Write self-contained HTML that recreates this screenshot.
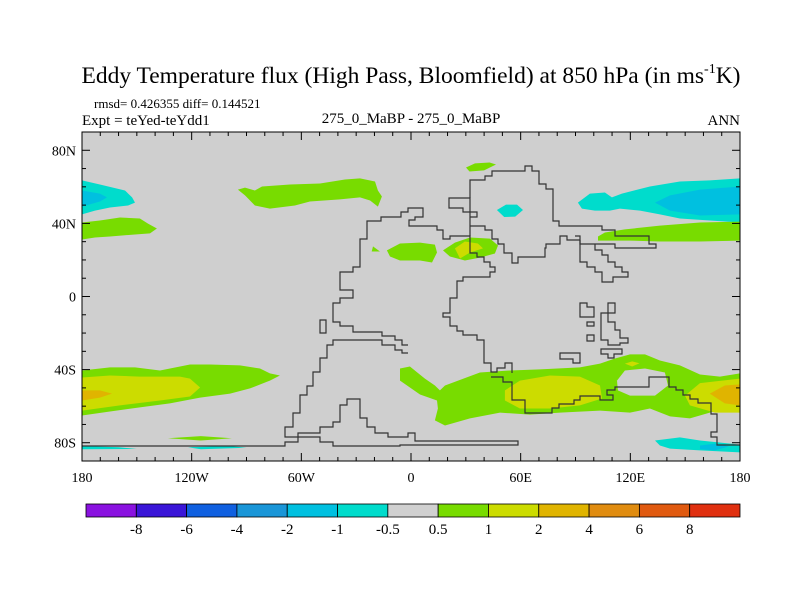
<!DOCTYPE html>
<html><head><meta charset="utf-8">
<style>
body{margin:0;background:#fff;}
svg{display:block;font-family:"Liberation Serif",serif;}
</style></head>
<body>
<svg id="chart" width="800" height="600" viewBox="0 0 800 600">
<text x="411" y="83" font-size="23.5" text-anchor="middle">Eddy Temperature flux (High Pass, Bloomfield) at 850 hPa (in ms<tspan font-size="14" dy="-10">-1</tspan><tspan dy="10">K)</tspan></text>
<text x="94" y="108" font-size="13">rmsd= 0.426355 diff= 0.144521</text>
<text x="82" y="125" font-size="15">Expt = teYed-teYdd1</text>
<text x="411" y="123" font-size="15" text-anchor="middle">275_0_MaBP - 275_0_MaBP</text>
<text x="740" y="125" font-size="15" text-anchor="end">ANN</text>
<defs><clipPath id="pc"><rect x="82" y="132" width="658" height="329"/></clipPath></defs>
<rect x="82" y="132" width="658" height="329" fill="#cfcfcf"/>
<g id="fields" clip-path="url(#pc)"></g>
<g id="coast" clip-path="url(#pc)" fill="none" stroke="#333" stroke-width="1.2"></g>
<rect x="82" y="132" width="658" height="329" fill="none" stroke="#000" stroke-width="1"/>
<g id="ticks"></g>
<g id="colorbar"></g>
</svg>
<script>
// ---- data (lon, lat) ----
const levelColors = ["#8a12e0","#3a16d8","#1060e0","#1a96d8","#00c0e0","#00dccc","#d0d0d0","#78dc00","#ccdc00","#e0b400","#e08c10","#e05a10","#e03010"];
const levelLabels = ["-8","-6","-4","-2","-1","-0.5","0.5","1","2","4","6","8"];
const lonTicks = [-180,-120,-60,0,60,120,180];
const lonTickLabels = ["180","120W","60W","0","60E","120E","180"];
const latTicks = [80,40,0,-40,-80];
const latTickLabels = ["80N","40N","0","40S","80S"];
// field contours: [colorIndex, polygon as lon,lat pairs]
const cyanNW = [[-180,63.5],[-170.2,61.3],[-156.5,58],[-152.6,54.2],[-151,51.4],[-154.8,49.8],[-164.7,48.7],[-172.9,47],[-180,44.9]];
const blueNW = [[-180,58],[-170.2,56.3],[-166.3,54.2],[-170.2,52],[-180,49.2]];
const cyanNE = [[91.3,51.4],[97.9,56.3],[106.1,56.9],[109.9,54.2],[115.4,56.3],[130.7,60.2],[147.1,62.9],[163.5,63.5],[180,64.6],[180,40.5],[163.5,41.6],[147.1,42.7],[136.2,44.9],[125.3,47],[114.3,48.1],[108.8,47],[100.6,47],[93.5,48.1]];
const blueNE = [[133.5,51.4],[141.7,55.3],[158.1,58.5],[180,60.2],[180,44.9],[158.1,44.3],[141.7,47]];
const greenNW = [[-180,40.5],[-170.2,41.6],[-159.2,43.2],[-148.3,42.7],[-143.9,39.9],[-139,37.2],[-142.8,34.5],[-151,33.9],[-164.7,32.8],[-172.9,32.3],[-180,31.2]];
const greenNE = [[102.3,32.8],[106.1,35],[117,36.7],[136.2,38.8],[158.1,40.5],[180,41],[180,30.6],[158.1,30.1],[136.2,30.1],[119.8,30.6],[108.8,30.6],[102.3,30.6]];
const greenNAm = [[-94.7,58.5],[-90.8,59.6],[-85.4,58],[-81.5,60.2],[-66.2,61.3],[-49.8,61.8],[-36.1,64],[-27.9,64.6],[-19.7,62.9],[-18.1,58],[-15.9,54.7],[-18.1,49.2],[-22.4,52.5],[-27.9,54.2],[-38.9,53.1],[-55.3,52],[-63.5,49.8],[-77.2,48.1],[-85.4,49.8],[-90.8,55.3]];
const greenA = [[-13.2,25.2],[-6.0,29],[4.9,29.5],[13.1,28.4],[14.2,24.1],[11.5,18.6],[4.9,19.7],[-6.0,19.7],[-11.5,21.9]];
const greenTri = [[-20.8,27.4],[-17,24.6],[-21.5,24.6]];
const greenB = [[17.5,25.2],[24,29.5],[32.3,32.3],[43.2,31.7],[47.6,27.9],[45.9,23.5],[37.7,21.3],[29.5,19.7],[21.3,21.9]];
const yellowB = [[24,26.3],[29.5,30.1],[36.6,29],[39.4,26.3],[32.3,24.1],[26.8,20.8]];
const greenArc = [[30.1,70.6],[35,72.8],[43,73.3],[46.5,72.2],[40,69],[32,68.4]];
const cyanSmall = [[47,47.3],[52,50.3],[58,50.3],[61.3,47.3],[57,43.7],[51,43.5]];
const greenSW = [[-180,-40.5],[-164.7,-38.8],[-151,-38.8],[-137.3,-40.5],[-126.4,-38.3],[-120.9,-37.2],[-110,-37.2],[-93.6,-37.7],[-82.6,-39.4],[-77.2,-42.1],[-71.7,-43.2],[-77.2,-46],[-88.1,-50.3],[-99,-53.1],[-115.4,-55.3],[-131.9,-58.5],[-148.3,-60.7],[-164.7,-62.9],[-180,-65.1]];
const yellowSW = [[-180,-44.3],[-164.7,-43.2],[-148.3,-43.8],[-126.4,-43.8],[-120.9,-44.9],[-115.4,-49.8],[-120.9,-54.7],[-137.3,-56.9],[-159.2,-59.6],[-180,-62.4]];
const orangeSW = [[-180,-51.4],[-170.2,-51.4],[-163.6,-53.1],[-170.2,-55.3],[-180,-56.9]];
const greenSmallS = [[-133,-77.5],[-115,-76.4],[-98,-77.5],[-115,-78.8]];
const cyanSW1 = [[-180,-81.8],[-160,-82.5],[-150,-83.4],[-180,-83.6]];
const cyanSW2 = [[-122,-82.5],[-100,-81.8],[-90,-82.7],[-115,-83.6]];
const greenSE = [[-6.0,-39.4],[-0.6,-38.3],[7.6,-44.9],[13.1,-48.7],[15.8,-51.4],[18.6,-48.7],[37.7,-41.6],[54.1,-40.5],[70.5,-39.9],[92.4,-38.8],[103.4,-36.7],[111.6,-33.9],[119.8,-31.7],[128,-31.7],[136.2,-35],[147.1,-37.7],[158.1,-42.7],[169,-43.8],[180,-42.1],[180,-59.6],[163.5,-63.5],[152.6,-66.7],[141.7,-65.6],[130.7,-61.3],[119.8,-63.5],[103.4,-62.4],[81.5,-63.5],[65.1,-64.6],[48.7,-63.5],[32.3,-66.7],[18.6,-70.6],[13.1,-67.8],[14.7,-61.3],[14.2,-56.9],[4.9,-53.6],[-6.0,-46]];
const holeSE = [[112.7,-46],[117,-40.5],[128,-39.4],[138.9,-41.6],[140.6,-48.7],[133.5,-54.2],[119.8,-54.2],[113.2,-51.4]];
const yellowSE1 = [[51.4,-51.4],[59.6,-46],[76,-43.2],[92.4,-43.8],[103.4,-48.7],[104.5,-55.8],[92.4,-59.6],[76,-61.3],[59.6,-61.3],[51.4,-56.9]];
const yellowSE2 = [[149.9,-54.2],[158.1,-47.4],[180,-44.9],[180,-63.5],[166.3,-63.5],[152.6,-59.6]];
const orangeSE = [[163.5,-53.1],[171.7,-48.7],[180,-48.1],[180,-59.6],[171.7,-58.5]];
const yellowSmall = [[117,-36.7],[121,-35.5],[125,-36.5],[121,-38.3]];
const cyanSE = [[133.5,-78.8],[147.1,-77.1],[158.1,-78.8],[180,-81],[180,-85.3],[158.1,-84.2],[141.7,-83.2],[136.2,-81.5]];
const blueSE = [[158.1,-81.5],[166.3,-80.5],[174,-82],[166.3,-84.2],[158.1,-83.6]];
const fieldPolys = [[5,cyanNW],[4,blueNW],[5,cyanNE],[4,blueNE],[7,greenNW],[7,greenNE],[7,greenNAm],[7,greenA],[7,greenTri],[7,greenB],[8,yellowB],[7,greenArc],[5,cyanSmall],[7,greenSW],[8,yellowSW],[9,orangeSW],[7,greenSmallS],[5,cyanSW1],[5,cyanSW2],[7,greenSE],[6,holeSE],[8,yellowSE1],[8,yellowSE2],[9,orangeSE],[8,yellowSmall],[5,cyanSE],[4,blueSE]];

// ---- axes ----
const X0=82,X1=740,Y0=132,Y1=461;
const xOf = lon => X0 + (lon+180)/360*(X1-X0);
const yOf = lat => Y0 + (90-lat)/180*(Y1-Y0);
const NS="http://www.w3.org/2000/svg";
function mk(tag, attrs, parent){const e=document.createElementNS(NS,tag);for(const k in attrs)e.setAttribute(k,attrs[k]);parent.appendChild(e);return e;}

const fg=document.getElementById('fields');
fieldPolys.forEach((fp,i)=>{
  const pts=fp[1].map(p=>xOf(p[0]).toFixed(1)+','+yOf(p[1]).toFixed(1)).join(' ');
  const pg=mk('polygon',{points:pts,fill:fp[0]===6?'#cfcfcf':levelColors[fp[0]]},fg);
  
  
});

// coastlines (pixel basemap paths)
const coastPaths = [
"M408,345 L402,345 L402,340 L395,340 L395,336 L382,336 L382,332 L353,332 L353,326 L340,326 L340,322 L333,322 L333,303 L340,303 L340,298 L353,298 L353,290 L340,290 L340,272 L353,272 L353,267 L360,267 L360,239 L367,239 L367,221 L381,221 L381,217 L401,217 L401,212 L408,212 L408,208 L423,208 L423,217 L415,217 L415,220 L409,220 L409,226 L437,226 L437,230 L443,230 L443,239 L450,239 L450,236 L470,236 L470,253 L477,253 L477,257 L484,257 L484,262 L490,262 L490,267 L495,267 L495,272 L490,272 L490,277 L463,277 L463,281 L457,281 L457,298 L450,298 L450,313 L443,313 L443,317 L450,317 L450,326 L457,326 L457,331 L463,331 L463,335 L477,335 L477,340 L484,340 L484,363 L491,363 L491,372 L497,372 L497,368 L505,368 L505,363 L512,363 L512,373",
"M470,236 L470,198 L449,198 L449,208 L463,208 L463,212 L477,212 L477,217 L470,217 L470,226 L485,226 L485,230 L492,230 L492,239 L498,239 L498,244 L504,244 L504,253 L512,253 L512,263 L518,263 L518,257 L545,257 L545,248 L546,248 L546,244 L560,244 L560,236 L567,236 L567,240 L580,240",
"M470,198 L470,180 L485,180 L485,176 L492,176 L492,171 L525,171 L525,166 L532,166 L532,171 L539,171 L539,184 L546,184 L546,189 L553,189 L553,221 L559,221 L559,226 L602,226 L602,230 L615,230 L615,236 L649,236 L649,244 L656,244 L656,248 L615,248 L615,244 L580,244 L580,236 L575,236",
"M580,240 L580,262 L587,262 L587,267 L595,267 L595,272 L602,272 L602,282 L613,282 L613,277 L628,277 L628,272 L622,272 L622,267 L615,267 L615,262 L608,262 L608,255 L602,255 L602,250 L595,250 L595,244",
"M82,446 L285,446 L285,442 L298,442 L298,433 L320,433 L320,427 L333,427 L333,422 L340,422 L340,405 L347,405 L347,399 L360,399 L360,418 L367,418 L367,427 L375,427 L375,433 L388,433 L388,437 L408,437 L408,433 L415,433 L415,441 L518,441 L518,445 L400,445 L400,446 L333,446 L333,442 L320,442 L320,437 L285,437 L285,427 L293,427 L293,413 L300,413 L300,395 L307,395 L307,386 L313,386 L313,372 L320,372 L320,358 L327,358 L327,345 L333,345 L333,340 L382,340 L382,345 L395,345 L395,350 L402,350 L402,353 L408,353",
"M491,377 L503,377 L503,382 L512,382 L512,400 L525,400 L525,413 L552,413 L552,408 L559,408 L559,404 L574,404 L574,400 L580,400 L580,396 L600,396 L600,400 L613,400 L613,395 L607,395 L607,390 L615,390 L615,387 L649,387 L649,377 L669,377 L669,387 L676,387 L676,390 L683,390 L683,395 L690,395 L690,399 L698,399 L698,403 L711,403 L711,414 L717,414 L717,432 L711,432 L711,437 L717,437 L717,445 L740,445",
"M580,303 L587,303 L587,307 L594,307 L594,317 L580,317 Z",
"M587,322 L594,322 L594,326 L587,326 Z",
"M587,335 L594,335 L594,341 L587,341 Z",
"M560,353 L580,353 L580,363 L573,363 L573,359 L560,359 Z",
"M601,349 L622,349 L622,354 L614,354 L614,358 L608,358 L608,354 L601,354 Z",
"M608,303 L615,303 L615,313 L608,313 L608,322 L615,322 L615,330 L620,330 L620,338 L628,338 L628,343 L620,343 L620,345 L608,345 L608,340 L601,340 L601,313 L608,313 Z",
"M320,320 L326,320 L326,333 L320,333 Z"
];
const cg=document.getElementById('coast');
coastPaths.forEach(d=>{
  const p=mk('path',{d:d},cg);
  
  
});

// ticks
const tg=document.getElementById('ticks');
for(let lon=-180;lon<=180;lon+=10){
  const x=xOf(lon), major=lon%60===0, L=major?8:4;
  mk('line',{x1:x,y1:Y1,x2:x,y2:Y1-L,stroke:'#000'},tg);
  mk('line',{x1:x,y1:Y0,x2:x,y2:Y0+L,stroke:'#000'},tg);
}
for(let lat=-90;lat<=90;lat+=10){
  const y=yOf(lat), major=lat%40===0, L=major?8:4;
  mk('line',{x1:X0,y1:y,x2:X0+L,y2:y,stroke:'#000'},tg);
  mk('line',{x1:X1,y1:y,x2:X1-L,y2:y,stroke:'#000'},tg);
}
lonTicks.forEach((lon,i)=>{
  const t=mk('text',{x:xOf(lon),y:482,'font-size':14,'text-anchor':'middle'},tg);
  t.textContent=lonTickLabels[i];
  
  
});
latTicks.forEach((lat,i)=>{
  const t=mk('text',{x:76,y:yOf(lat)+5,'font-size':14,'text-anchor':'end'},tg);
  t.textContent=latTickLabels[i];
  
  
});

// colorbar
const cb=document.getElementById('colorbar');
const CB0=86,CB1=740,CBY=504,CBH=13,bw=(CB1-CB0)/levelColors.length;
levelColors.forEach((c,i)=>{
  const r=mk('rect',{x:CB0+i*bw,y:CBY,width:bw,height:CBH,fill:c,stroke:'#000','stroke-width':0.8},cb);
  
  
});
levelLabels.forEach((l,i)=>{
  const t=mk('text',{x:CB0+(i+1)*bw,y:534,'font-size':15,'text-anchor':'middle'},cb);
  t.textContent=l;
  
  
});
</script>
</body></html>
